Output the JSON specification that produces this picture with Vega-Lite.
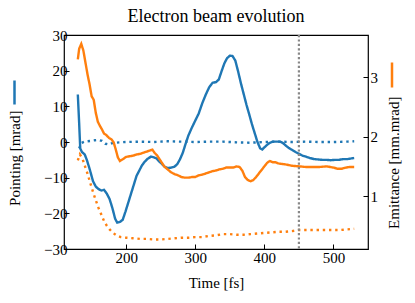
{
  "$schema": "https://vega.github.io/schema/vega-lite/v6.json",
  "width": 304,
  "height": 214,
  "autosize": "none",
  "padding": {"left": 64, "top": 35, "right": 47, "bottom": 54},
  "background": "white",
  "title": {"text": "Electron beam evolution", "font": "Liberation Serif", "fontSize": 18, "fontWeight": "normal", "color": "black", "anchor": "middle", "frame": "group", "offset": -12, "baseline": "alphabetic"},
  "config": {
    "view": {"stroke": "black", "strokeWidth": 1.2},
    "axis": {"grid": false, "domain": false, "ticks": true, "tickColor": "black", "tickWidth": 1, "tickSize": -5, "labelFont": "Liberation Serif", "labelFontSize": 15, "labelColor": "black", "titleFont": "Liberation Serif", "titleFontSize": 15, "titleFontWeight": "normal", "titleColor": "black"}
  },
  "datasets": {
    "pointing": [
      {"t": 130, "v": 13.3, "kind": "solid"}, {"t": 132, "v": 5, "kind": "solid"}, {"t": 133.5, "v": -1.8, "kind": "solid"}, {"t": 136, "v": -2.8, "kind": "solid"}, {"t": 140, "v": -3.5, "kind": "solid"}, {"t": 143, "v": -5, "kind": "solid"}, {"t": 147, "v": -7.5, "kind": "solid"}, {"t": 152, "v": -11, "kind": "solid"}, {"t": 156, "v": -12.5, "kind": "solid"}, {"t": 160, "v": -13.2, "kind": "solid"}, {"t": 164, "v": -13.6, "kind": "solid"}, {"t": 168, "v": -13.4, "kind": "solid"}, {"t": 172, "v": -14.5, "kind": "solid"}, {"t": 176, "v": -16, "kind": "solid"}, {"t": 180, "v": -18.5, "kind": "solid"}, {"t": 184, "v": -21.5, "kind": "solid"}, {"t": 187, "v": -22.6, "kind": "solid"}, {"t": 191, "v": -22.4, "kind": "solid"}, {"t": 195, "v": -21.8, "kind": "solid"}, {"t": 199, "v": -19.5, "kind": "solid"}, {"t": 203, "v": -17, "kind": "solid"}, {"t": 207, "v": -14.5, "kind": "solid"}, {"t": 211, "v": -12, "kind": "solid"}, {"t": 215, "v": -9.5, "kind": "solid"}, {"t": 219, "v": -8, "kind": "solid"}, {"t": 223, "v": -6.5, "kind": "solid"}, {"t": 227, "v": -5.5, "kind": "solid"}, {"t": 231, "v": -4.7, "kind": "solid"}, {"t": 236, "v": -4.1, "kind": "solid"}, {"t": 240, "v": -4.3, "kind": "solid"}, {"t": 244, "v": -4.6, "kind": "solid"}, {"t": 248, "v": -5.5, "kind": "solid"}, {"t": 252, "v": -6.2, "kind": "solid"}, {"t": 256, "v": -7, "kind": "solid"}, {"t": 260, "v": -7.3, "kind": "solid"}, {"t": 265, "v": -7.2, "kind": "solid"}, {"t": 270, "v": -6.9, "kind": "solid"}, {"t": 274, "v": -6.2, "kind": "solid"}, {"t": 278, "v": -4.8, "kind": "solid"}, {"t": 282, "v": -3, "kind": "solid"}, {"t": 286, "v": -0.5, "kind": "solid"}, {"t": 290, "v": 1.8, "kind": "solid"}, {"t": 295, "v": 4, "kind": "solid"}, {"t": 300, "v": 6, "kind": "solid"}, {"t": 305, "v": 8, "kind": "solid"}, {"t": 310, "v": 10.8, "kind": "solid"}, {"t": 315, "v": 13.2, "kind": "solid"}, {"t": 320, "v": 15.3, "kind": "solid"}, {"t": 325, "v": 16.6, "kind": "solid"}, {"t": 330, "v": 16.8, "kind": "solid"}, {"t": 334, "v": 17.5, "kind": "solid"}, {"t": 338, "v": 19.8, "kind": "solid"}, {"t": 342, "v": 22, "kind": "solid"}, {"t": 346, "v": 23.5, "kind": "solid"}, {"t": 350, "v": 24.2, "kind": "solid"}, {"t": 354, "v": 24.1, "kind": "solid"}, {"t": 358, "v": 22.8, "kind": "solid"}, {"t": 362, "v": 19.8, "kind": "solid"}, {"t": 366, "v": 16.5, "kind": "solid"}, {"t": 370, "v": 13.5, "kind": "solid"}, {"t": 374, "v": 10.5, "kind": "solid"}, {"t": 378, "v": 7.8, "kind": "solid"}, {"t": 382, "v": 5, "kind": "solid"}, {"t": 386, "v": 2.5, "kind": "solid"}, {"t": 390, "v": 0, "kind": "solid"}, {"t": 394, "v": -1.8, "kind": "solid"}, {"t": 397, "v": -2.1, "kind": "solid"}, {"t": 400, "v": -1.5, "kind": "solid"}, {"t": 404, "v": -0.8, "kind": "solid"}, {"t": 408, "v": -0.2, "kind": "solid"}, {"t": 413, "v": 0.1, "kind": "solid"}, {"t": 418, "v": 0.1, "kind": "solid"}, {"t": 423, "v": 0.1, "kind": "solid"}, {"t": 427, "v": -0.3, "kind": "solid"}, {"t": 431, "v": -1, "kind": "solid"}, {"t": 435, "v": -1.6, "kind": "solid"}, {"t": 440, "v": -2.2, "kind": "solid"}, {"t": 445, "v": -2.8, "kind": "solid"}, {"t": 450, "v": -3.3, "kind": "solid"}, {"t": 455, "v": -3.8, "kind": "solid"}, {"t": 460, "v": -4.1, "kind": "solid"}, {"t": 466, "v": -4.5, "kind": "solid"}, {"t": 472, "v": -4.8, "kind": "solid"}, {"t": 478, "v": -4.9, "kind": "solid"}, {"t": 484, "v": -5, "kind": "solid"}, {"t": 490, "v": -5, "kind": "solid"}, {"t": 496, "v": -5.1, "kind": "solid"}, {"t": 502, "v": -5, "kind": "solid"}, {"t": 508, "v": -5, "kind": "solid"}, {"t": 514, "v": -4.8, "kind": "solid"}, {"t": 520, "v": -4.8, "kind": "solid"}, {"t": 526, "v": -4.6, "kind": "solid"}, {"t": 530, "v": -4.5, "kind": "solid"},
      {"t": 132, "v": -1.8, "kind": "dotted"}, {"t": 135, "v": -0.3, "kind": "dotted"}, {"t": 140, "v": 0.1, "kind": "dotted"}, {"t": 148, "v": 0.3, "kind": "dotted"}, {"t": 155, "v": 0.5, "kind": "dotted"}, {"t": 160, "v": 0.6, "kind": "dotted"}, {"t": 165, "v": 0.3, "kind": "dotted"}, {"t": 170, "v": -0.5, "kind": "dotted"}, {"t": 175, "v": -0.7, "kind": "dotted"}, {"t": 180, "v": -0.3, "kind": "dotted"}, {"t": 190, "v": -0.1, "kind": "dotted"}, {"t": 200, "v": 0, "kind": "dotted"}, {"t": 220, "v": 0.1, "kind": "dotted"}, {"t": 240, "v": 0, "kind": "dotted"}, {"t": 260, "v": 0.2, "kind": "dotted"}, {"t": 280, "v": 0.1, "kind": "dotted"}, {"t": 300, "v": 0, "kind": "dotted"}, {"t": 320, "v": 0.1, "kind": "dotted"}, {"t": 340, "v": 0.1, "kind": "dotted"}, {"t": 360, "v": -0.1, "kind": "dotted"}, {"t": 380, "v": -0.2, "kind": "dotted"}, {"t": 400, "v": 0, "kind": "dotted"}, {"t": 420, "v": 0.1, "kind": "dotted"}, {"t": 440, "v": 0, "kind": "dotted"}, {"t": 460, "v": 0.1, "kind": "dotted"}, {"t": 480, "v": 0, "kind": "dotted"}, {"t": 500, "v": 0, "kind": "dotted"}, {"t": 520, "v": 0.1, "kind": "dotted"}, {"t": 530, "v": 0.2, "kind": "dotted"}
    ],
    "emittance": [
      {"t": 130, "v": 3.3, "kind": "solid"}, {"t": 132, "v": 3.48, "kind": "solid"}, {"t": 135, "v": 3.56, "kind": "solid"}, {"t": 138, "v": 3.45, "kind": "solid"}, {"t": 141, "v": 3.25, "kind": "solid"}, {"t": 144, "v": 3.05, "kind": "solid"}, {"t": 147, "v": 2.88, "kind": "solid"}, {"t": 150, "v": 2.68, "kind": "solid"}, {"t": 153, "v": 2.62, "kind": "solid"}, {"t": 156, "v": 2.4, "kind": "solid"}, {"t": 159, "v": 2.25, "kind": "solid"}, {"t": 162, "v": 2.18, "kind": "solid"}, {"t": 165, "v": 2.12, "kind": "solid"}, {"t": 168, "v": 2.05, "kind": "solid"}, {"t": 171, "v": 2.03, "kind": "solid"}, {"t": 175, "v": 1.98, "kind": "solid"}, {"t": 179, "v": 1.95, "kind": "solid"}, {"t": 182, "v": 1.9, "kind": "solid"}, {"t": 185, "v": 1.78, "kind": "solid"}, {"t": 188, "v": 1.65, "kind": "solid"}, {"t": 191, "v": 1.59, "kind": "solid"}, {"t": 195, "v": 1.62, "kind": "solid"}, {"t": 200, "v": 1.66, "kind": "solid"}, {"t": 205, "v": 1.67, "kind": "solid"}, {"t": 210, "v": 1.68, "kind": "solid"}, {"t": 215, "v": 1.7, "kind": "solid"}, {"t": 220, "v": 1.71, "kind": "solid"}, {"t": 225, "v": 1.73, "kind": "solid"}, {"t": 230, "v": 1.75, "kind": "solid"}, {"t": 235, "v": 1.77, "kind": "solid"}, {"t": 238, "v": 1.78, "kind": "solid"}, {"t": 241, "v": 1.73, "kind": "solid"}, {"t": 245, "v": 1.68, "kind": "solid"}, {"t": 250, "v": 1.59, "kind": "solid"}, {"t": 255, "v": 1.5, "kind": "solid"}, {"t": 260, "v": 1.45, "kind": "solid"}, {"t": 265, "v": 1.4, "kind": "solid"}, {"t": 270, "v": 1.37, "kind": "solid"}, {"t": 275, "v": 1.35, "kind": "solid"}, {"t": 280, "v": 1.32, "kind": "solid"}, {"t": 285, "v": 1.31, "kind": "solid"}, {"t": 290, "v": 1.31, "kind": "solid"}, {"t": 295, "v": 1.32, "kind": "solid"}, {"t": 300, "v": 1.32, "kind": "solid"}, {"t": 305, "v": 1.35, "kind": "solid"}, {"t": 310, "v": 1.36, "kind": "solid"}, {"t": 315, "v": 1.38, "kind": "solid"}, {"t": 320, "v": 1.4, "kind": "solid"}, {"t": 325, "v": 1.42, "kind": "solid"}, {"t": 330, "v": 1.43, "kind": "solid"}, {"t": 335, "v": 1.45, "kind": "solid"}, {"t": 340, "v": 1.46, "kind": "solid"}, {"t": 345, "v": 1.48, "kind": "solid"}, {"t": 350, "v": 1.48, "kind": "solid"}, {"t": 355, "v": 1.48, "kind": "solid"}, {"t": 360, "v": 1.5, "kind": "solid"}, {"t": 364, "v": 1.49, "kind": "solid"}, {"t": 368, "v": 1.43, "kind": "solid"}, {"t": 372, "v": 1.32, "kind": "solid"}, {"t": 376, "v": 1.27, "kind": "solid"}, {"t": 380, "v": 1.25, "kind": "solid"}, {"t": 384, "v": 1.27, "kind": "solid"}, {"t": 388, "v": 1.32, "kind": "solid"}, {"t": 392, "v": 1.38, "kind": "solid"}, {"t": 396, "v": 1.44, "kind": "solid"}, {"t": 400, "v": 1.5, "kind": "solid"}, {"t": 404, "v": 1.56, "kind": "solid"}, {"t": 408, "v": 1.59, "kind": "solid"}, {"t": 412, "v": 1.57, "kind": "solid"}, {"t": 416, "v": 1.57, "kind": "solid"}, {"t": 420, "v": 1.55, "kind": "solid"}, {"t": 426, "v": 1.54, "kind": "solid"}, {"t": 432, "v": 1.53, "kind": "solid"}, {"t": 440, "v": 1.51, "kind": "solid"}, {"t": 450, "v": 1.5, "kind": "solid"}, {"t": 460, "v": 1.49, "kind": "solid"}, {"t": 470, "v": 1.49, "kind": "solid"}, {"t": 480, "v": 1.49, "kind": "solid"}, {"t": 490, "v": 1.5, "kind": "solid"}, {"t": 500, "v": 1.48, "kind": "solid"}, {"t": 506, "v": 1.46, "kind": "solid"}, {"t": 512, "v": 1.46, "kind": "solid"}, {"t": 518, "v": 1.48, "kind": "solid"}, {"t": 524, "v": 1.49, "kind": "solid"}, {"t": 530, "v": 1.49, "kind": "solid"},
      {"t": 130, "v": 1.6, "kind": "dotted"}, {"t": 133, "v": 1.7, "kind": "dotted"}, {"t": 137, "v": 1.62, "kind": "dotted"}, {"t": 141, "v": 1.48, "kind": "dotted"}, {"t": 144, "v": 1.38, "kind": "dotted"}, {"t": 148, "v": 1.22, "kind": "dotted"}, {"t": 152, "v": 1.07, "kind": "dotted"}, {"t": 156, "v": 0.93, "kind": "dotted"}, {"t": 160, "v": 0.8, "kind": "dotted"}, {"t": 164, "v": 0.69, "kind": "dotted"}, {"t": 168, "v": 0.58, "kind": "dotted"}, {"t": 172, "v": 0.5, "kind": "dotted"}, {"t": 176, "v": 0.44, "kind": "dotted"}, {"t": 181, "v": 0.38, "kind": "dotted"}, {"t": 186, "v": 0.34, "kind": "dotted"}, {"t": 192, "v": 0.31, "kind": "dotted"}, {"t": 200, "v": 0.3, "kind": "dotted"}, {"t": 210, "v": 0.29, "kind": "dotted"}, {"t": 220, "v": 0.28, "kind": "dotted"}, {"t": 230, "v": 0.28, "kind": "dotted"}, {"t": 240, "v": 0.27, "kind": "dotted"}, {"t": 250, "v": 0.27, "kind": "dotted"}, {"t": 260, "v": 0.28, "kind": "dotted"}, {"t": 270, "v": 0.29, "kind": "dotted"}, {"t": 280, "v": 0.3, "kind": "dotted"}, {"t": 290, "v": 0.3, "kind": "dotted"}, {"t": 300, "v": 0.31, "kind": "dotted"}, {"t": 310, "v": 0.31, "kind": "dotted"}, {"t": 320, "v": 0.33, "kind": "dotted"}, {"t": 330, "v": 0.34, "kind": "dotted"}, {"t": 340, "v": 0.36, "kind": "dotted"}, {"t": 350, "v": 0.36, "kind": "dotted"}, {"t": 360, "v": 0.35, "kind": "dotted"}, {"t": 370, "v": 0.35, "kind": "dotted"}, {"t": 380, "v": 0.36, "kind": "dotted"}, {"t": 390, "v": 0.37, "kind": "dotted"}, {"t": 400, "v": 0.38, "kind": "dotted"}, {"t": 410, "v": 0.39, "kind": "dotted"}, {"t": 420, "v": 0.4, "kind": "dotted"}, {"t": 430, "v": 0.4, "kind": "dotted"}, {"t": 440, "v": 0.41, "kind": "dotted"}, {"t": 450, "v": 0.43, "kind": "dotted"}, {"t": 460, "v": 0.43, "kind": "dotted"}, {"t": 470, "v": 0.43, "kind": "dotted"}, {"t": 480, "v": 0.43, "kind": "dotted"}, {"t": 490, "v": 0.43, "kind": "dotted"}, {"t": 500, "v": 0.43, "kind": "dotted"}, {"t": 510, "v": 0.43, "kind": "dotted"}, {"t": 520, "v": 0.44, "kind": "dotted"}, {"t": 530, "v": 0.45, "kind": "dotted"}
    ],
    "marker": [{"t": 450}]
  },
  "layer": [
    {
      "data": {"name": "pointing"},
      "mark": {"type": "line", "strokeWidth": 2.4, "strokeCap": "butt"},
      "encoding": {
        "x": {"field": "t", "type": "quantitative", "scale": {"domain": [110, 550], "nice": false, "zero": false}, "axis": {"values": [200, 300, 400, 500], "title": "Time [fs]", "labelPadding": 6, "titleY": 38, "titleBaseline": "alphabetic"}},
        "y": {"field": "v", "type": "quantitative", "scale": {"domain": [-30, 30], "nice": false, "zero": false}, "axis": {"orient": "left", "values": [-30, -20, -10, 0, 10, 20, 30], "title": "Pointing [mrad]", "labelPadding": 2, "titleX": -50, "titleY": 75, "titleAngle": 270, "titleAlign": "right", "titleBaseline": "middle"}},
        "color": {"datum": "Pointing", "scale": {"range": ["#1f77b4"]}, "legend": {"orient": "none", "legendX": -63, "legendY": 44, "title": null, "symbolType": "M0,-1L0,1", "symbolSize": 576, "symbolStrokeWidth": 2.5, "labelExpr": "''", "padding": 0, "symbolOffset": 0, "labelOffset": 0}},
        "strokeDash": {"field": "kind", "type": "nominal", "scale": {"domain": ["solid", "dotted"], "range": [[1, 0], [2.4, 3.8]]}, "legend": null}
      }
    },
    {
      "data": {"name": "emittance"},
      "mark": {"type": "line", "strokeWidth": 2.4, "strokeCap": "butt"},
      "encoding": {
        "x": {"field": "t", "type": "quantitative"},
        "y": {"field": "v", "type": "quantitative", "scale": {"domain": [0.11, 3.71], "nice": false, "zero": false}, "axis": {"orient": "right", "values": [1, 2, 3], "title": "Emittance [mm.mrad]", "labelPadding": 7, "titleX": 25, "titleY": 61, "titleAngle": 270, "titleAlign": "right", "titleBaseline": "middle"}},
        "color": {"datum": "Emittance", "scale": {"range": ["#ff7f0e"]}, "legend": {"orient": "none", "legendX": 314, "legendY": 26, "title": null, "symbolType": "M0,-1L0,1", "symbolSize": 625, "symbolStrokeWidth": 2.5, "labelExpr": "''", "padding": 0, "symbolOffset": 0, "labelOffset": 0}},
        "strokeDash": {"field": "kind", "type": "nominal", "scale": {"domain": ["solid", "dotted"], "range": [[1, 0], [2.4, 3.8]]}, "legend": null}
      }
    },
    {
      "data": {"name": "marker"},
      "mark": {"type": "rule", "color": "#888888", "strokeWidth": 2.2, "strokeDash": [2.2, 2.2]},
      "encoding": {"x": {"field": "t", "type": "quantitative"}}
    }
  ],
  "resolve": {"scale": {"y": "independent", "color": "independent"}}
}
